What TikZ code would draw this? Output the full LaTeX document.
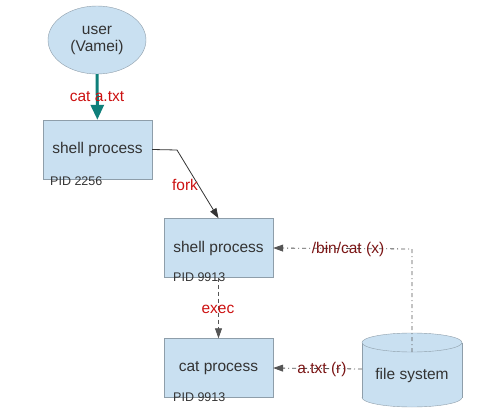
\documentclass[tikz,border=0pt]{standalone}
\usepackage{fontspec}
\setmainfont{Liberation Sans}
\usetikzlibrary{arrows.meta,shapes.geometric}
\definecolor{boxfill}{HTML}{C9E0F1}
\definecolor{boxline}{HTML}{8E9EAA}
\definecolor{txtgray}{HTML}{333333}
\definecolor{lblred}{HTML}{CC1111}
\definecolor{lblmaroon}{HTML}{7A1414}
\definecolor{tealarrow}{HTML}{0F7F7A}
\definecolor{conngray}{HTML}{555555}
\tikzset{
  procbox/.style={rectangle, draw=boxline, fill=boxfill, minimum width=109pt, minimum height=59pt, inner sep=0pt, text=txtgray, font=\fontsize{15.5}{18}\selectfont},
  userell/.style={ellipse, draw=boxline, fill=boxfill, minimum width=98pt, minimum height=68pt, inner sep=0pt, text=txtgray, align=center, font=\fontsize{15.5}{17}\selectfont},
  pidlbl/.style={anchor=west, inner sep=0pt, text=txtgray, font=\fontsize{12.5}{14}\selectfont},
  redlbl/.style={inner sep=0pt, text=lblred, font=\fontsize{15.5}{18}\selectfont},
  darklbl/.style={inner sep=0pt, text=lblmaroon, font=\fontsize{15.5}{18}\selectfont},
  solidconn/.style={draw=txtgray, line width=0.8pt, -{Triangle[width=7pt,length=10pt]}},
  dashconn/.style={draw=conngray, line width=0.8pt, dash pattern=on 4pt off 3pt, -{Triangle[width=7pt,length=10pt]}},
  dotconn/.style={draw=conngray, line width=0.8pt, dash pattern=on 4pt off 3pt on 1pt off 3pt, -{Triangle[width=7pt,length=10pt]}},
}
\begin{document}
\begin{tikzpicture}[x=1pt,y=-1pt]
\useasboundingbox (0,0) rectangle (485,420);
% nodes
\node[userell] (user) at (97,40) {user\\(Vamei)};
\node[procbox] (shell1) at (97.5,149.5) {shell process};
\node[procbox] (shell2) at (218.5,248) {shell process};
\node[procbox] (cat) at (218.5,368) {cat process};
\node[pidlbl] (pid1) at (50,181) {PID 2256};
\node[pidlbl] (pid2) at (173,277) {PID 9913};
\node[pidlbl] (pid3) at (173,397) {PID 9913};
% cylinder
\filldraw[fill=boxfill, draw=boxline] (412,397.5) ellipse[x radius=50pt, y radius=9.5pt];
\fill[boxfill] (362,342.5) rectangle (462,397.5);
\draw[boxline] (362,342.5) -- (362,397.5);
\draw[boxline] (462,342.5) -- (462,397.5);
\filldraw[fill=boxfill, draw=boxline] (412,342.5) ellipse[x radius=50pt, y radius=9.5pt];
\node[inner sep=0pt, text=txtgray, font=\fontsize{15.5}{18}\selectfont] (fs) at (412,375) {file system};
\coordinate (fstop) at (412,352);
\coordinate (fsbend) at (412,249);
\coordinate (fsleft) at (362,369);
\coordinate (forkbend) at (177,150);
% connectors
\draw[draw=tealarrow, line width=3pt, -{Triangle[width=13pt,length=15pt]}] (user) -- (shell1);
\draw[solidconn] (shell1.east) -- (forkbend) -- (shell2.north);
\draw[dashconn] (shell2.south) -- (cat.north);
\draw[dotconn] (fstop) -- (fsbend) -- (shell2.east);
\draw[dotconn] (fsleft) -- (cat.east);
% labels
\node[redlbl] (l1) at (97,97) {cat a.txt};
\node[redlbl] (l2) at (185,185) {fork};
\node[redlbl] (l3) at (218,309) {exec};
\node[darklbl] (l4) at (348,249) {/bin/cat (x)};
\node[darklbl] (l5) at (322,369) {a.txt (r)};
\end{tikzpicture}
\end{document}
